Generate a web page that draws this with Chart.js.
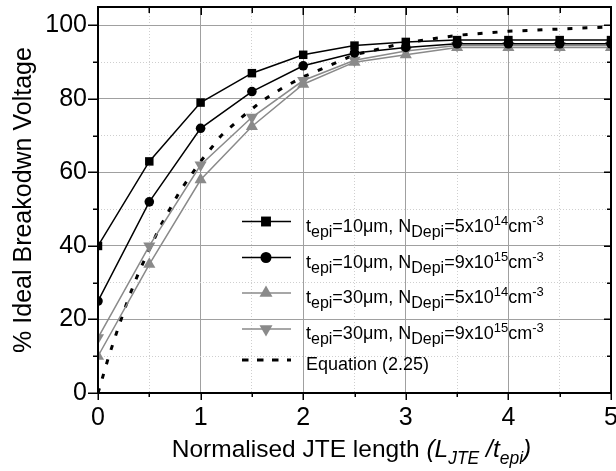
<!DOCTYPE html>
<html>
<head>
<meta charset="utf-8">
<script src="https://cdn.jsdelivr.net/npm/chart.js@4.4.0/dist/chart.umd.min.js"></script>
<style>
  html, body { margin: 0; padding: 0; background: #fff; }
  #wrap { width: 616px; height: 471px; }
</style>
</head>
<body>
<div id="wrap"><canvas id="chart"></canvas></div>
<script>
// simulated points (normalised JTE length L_JTE / t_epi)
const xValues = [0, 0.5, 1, 1.5, 2, 2.5, 3, 3.5, 4, 4.5, 5];
const tepi10N5e14 = [40, 63, 79, 87, 92, 94.5, 95.5, 96, 96, 96, 96];
const tepi10N9e15 = [25, 52, 72, 82, 89, 92.5, 94, 95, 95, 95, 95];
const tepi30N5e14 = [10, 35, 58, 72.5, 84, 90, 92, 94, 94, 94, 94];
const tepi30N9e15 = [15, 40, 62, 75, 85, 90.5, 93, 94.5, 94.5, 94.5, 94.5];

// Equation (2.25) curve
const eqX = [0, 0.1, 0.2, 0.3, 0.4, 0.5, 0.6, 0.8, 1, 1.2, 1.4, 1.6, 1.8, 2, 2.5, 3, 3.5, 4, 4.5, 5];
const eqY = [0, 9.5, 18, 26, 33, 39, 45, 55, 63, 70, 75, 79.5, 83, 86, 92, 95.3, 97.3, 98.4, 99, 99.6];

const xMajorTicks = [0, 1, 2, 3, 4, 5];
const xMinorTicks = [0.5, 1.5, 2.5, 3.5, 4.5];
const yMajorTicks = [0, 20, 40, 60, 80, 100];
const yMinorTicks = [10, 30, 50, 70, 90];

// legend labels: [text, style]
const legendLabels = [
    [['t'], ['epi', 'sub'], ['=10\u03bcm, N'], ['Depi', 'sub'], ['=5x10'], ['14', 'sup'], ['cm'], ['-3', 'sup']],
    [['t'], ['epi', 'sub'], ['=10\u03bcm, N'], ['Depi', 'sub'], ['=9x10'], ['15', 'sup'], ['cm'], ['-3', 'sup']],
    [['t'], ['epi', 'sub'], ['=30\u03bcm, N'], ['Depi', 'sub'], ['=5x10'], ['14', 'sup'], ['cm'], ['-3', 'sup']],
    [['t'], ['epi', 'sub'], ['=30\u03bcm, N'], ['Depi', 'sub'], ['=9x10'], ['15', 'sup'], ['cm'], ['-3', 'sup']],
    [['Equation (2.25)']]
];
const xTitle = [['Normalised JTE length '], ['(L', 'it'], ['JTE', 'itsub'], [' /t', 'it'], ['epi', 'itsub'], [')', 'it']];
const yTitle = '% Ideal Breakodwn Voltage';

const FONT = "'Liberation Sans', Arial, Helvetica, sans-serif";
const GREY = '#8a8a8a';

function toPoints(xs, ys) {
    return xs.map((x, i) => ({x: x, y: ys[i]}));
}

function partFont(style, size) {
    const it = style && style.indexOf('it') === 0 ? 'italic ' : '';
    return it + size + 'px ' + FONT;
}

// draws text with sub/superscripts, returns width
function drawRich(ctx, parts, x, y, sizes, draw) {
    let cx = x;
    parts.forEach(([text, style]) => {
        let size = sizes.main, dy = 0;
        if (style === 'sub' || style === 'itsub') { size = sizes.sub; dy = sizes.subDy; }
        if (style === 'sup') { size = sizes.sup; dy = sizes.supDy; }
        ctx.font = partFont(style, size);
        if (draw) ctx.fillText(text, cx, y + dy);
        cx += ctx.measureText(text).width;
    });
    return cx - x;
}

// no automatic padding around the plot, the frame sits where the reference has it
function noPad(s) {
    s.paddingTop = 0; s.paddingBottom = 0; s.paddingLeft = 0; s.paddingRight = 0;
}

const decorations = {
    id: 'decorations',
    afterDraw(chart) {
        const ctx = chart.ctx;
        const {left, right, top, bottom} = chart.chartArea;
        const xs = chart.scales.x, ys = chart.scales.y;
        ctx.save();

        // ticks
        ctx.strokeStyle = '#000';
        ctx.lineWidth = 1.5;
        ctx.beginPath();
        xMajorTicks.concat(xMinorTicks).forEach(v => {
            const px = Math.round(xs.getPixelForValue(v)) + 0.25;
            const major = xMajorTicks.includes(v);
            ctx.moveTo(px, bottom); ctx.lineTo(px, bottom + (major ? 7 : 4));
            ctx.moveTo(px, top); ctx.lineTo(px, top + (major ? 8 : 6));
        });
        yMajorTicks.concat(yMinorTicks).forEach(v => {
            const py = Math.round(ys.getPixelForValue(v)) + 0.25;
            const major = yMajorTicks.includes(v);
            ctx.moveTo(left, py); ctx.lineTo(left - (major ? 10 : 5), py);
            ctx.moveTo(right, py); ctx.lineTo(right - (major ? 7 : 4), py);
        });
        ctx.stroke();

        // frame
        ctx.lineWidth = 2;
        ctx.strokeRect(left, top, right - left, bottom - top);

        // legend
        const rowsY = [221.5, 257.5, 293, 329, 360];
        const styles = [
            {color: '#000', pointStyle: 'rect', radius: 7, rotation: 0},
            {color: '#000', pointStyle: 'circle', radius: 5.5, rotation: 0},
            {color: GREY, pointStyle: 'triangle', radius: 7.5, rotation: 0},
            {color: GREY, pointStyle: 'triangle', radius: 7.5, rotation: 180},
            {color: '#000', dash: true}
        ];
        const sizes = {main: 18, sub: 16, subDy: 5, sup: 13, supDy: -7};
        rowsY.forEach((ry, i) => {
            const st = styles[i];
            ctx.strokeStyle = st.color;
            ctx.fillStyle = st.color;
            if (st.dash) {
                ctx.lineWidth = 3;
                ctx.setLineDash([6.5, 8.5]);
            } else {
                ctx.lineWidth = 1.5;
                ctx.setLineDash([]);
            }
            ctx.beginPath();
            ctx.moveTo(242, ry); ctx.lineTo(291, ry);
            ctx.stroke();
            ctx.setLineDash([]);
            if (!st.dash) {
                Chart.helpers.drawPoint(ctx, {pointStyle: st.pointStyle, radius: st.radius,
                    rotation: st.rotation, borderWidth: 0}, 266, ry);
            }
            ctx.fillStyle = '#000';
            ctx.textBaseline = 'alphabetic';
            ctx.textAlign = 'left';
            drawRich(ctx, legendLabels[i], 306, ry + 10, sizes, true);
        });

        // x axis title
        const tsizes = {main: 24.5, sub: 17.5, subDy: 7, sup: 17, supDy: -8};
        const w = drawRich(ctx, xTitle, 0, 0, tsizes, false);
        ctx.fillStyle = '#000';
        drawRich(ctx, xTitle, (left + right) / 2 - 3 - w / 2, 457, tsizes, true);

        ctx.restore();
    }
};

const ctx = document.getElementById('chart').getContext('2d');

new Chart(ctx, {
    type: 'line',
    data: {
        datasets: [
            {
                label: 't_epi=10um, N_Depi=5x10^14cm^-3',
                data: toPoints(xValues, tepi10N5e14),
                borderColor: '#000', backgroundColor: '#000', clip: 0,
                borderWidth: 1.5, pointStyle: 'rect', pointRadius: 6, pointBorderWidth: 0
            },
            {
                label: 't_epi=10um, N_Depi=9x10^15cm^-3',
                data: toPoints(xValues, tepi10N9e15),
                borderColor: '#000', backgroundColor: '#000', clip: 0,
                borderWidth: 1.5, pointStyle: 'circle', pointRadius: 4.8, pointBorderWidth: 0
            },
            {
                label: 't_epi=30um, N_Depi=5x10^14cm^-3',
                data: toPoints(xValues, tepi30N5e14),
                borderColor: GREY, backgroundColor: GREY, clip: 0,
                borderWidth: 1.5, pointStyle: 'triangle', pointRadius: 7, pointBorderWidth: 0
            },
            {
                label: 't_epi=30um, N_Depi=9x10^15cm^-3',
                data: toPoints(xValues, tepi30N9e15),
                borderColor: GREY, backgroundColor: GREY, clip: 0,
                borderWidth: 1.5, pointStyle: 'triangle', pointRotation: 180, pointRadius: 7, pointBorderWidth: 0
            },
            {
                label: 'Equation (2.25)',
                data: toPoints(eqX, eqY),
                borderColor: '#000', borderWidth: 3, borderDash: [5, 10], clip: 0,
                pointRadius: 0, fill: false
            }
        ]
    },
    options: {
        responsive: true,
        maintainAspectRatio: false,
        animation: false,
        events: [],
        layout: {autoPadding: false, padding: {top: 7, right: 5, left: 0, bottom: 0}},
        plugins: {legend: {display: false}, tooltip: {enabled: false}},
        elements: {line: {tension: 0}},
        scales: {
            x: {
                type: 'linear', min: 0, max: 5,
                afterFit: s => { s.height = 78; noPad(s); },
                afterBuildTicks: s => {
                    s.ticks = xMajorTicks.concat(xMinorTicks).sort((a, b) => a - b).map(v => ({value: v}));
                },
                ticks: {
                    autoSkip: false, maxRotation: 0, padding: 10, color: '#000',
                    font: {family: FONT, size: 25},
                    callback: v => xMajorTicks.includes(v) ? String(v) : ''
                },
                grid: {
                    drawTicks: false, lineWidth: 1,
                    color: c => xMajorTicks.includes(c.tick.value) ? '#a0a0a0' : '#cfcfcf'
                },
                border: {display: false, dash: c => xMajorTicks.includes(c.tick.value) ? [] : [1, 2]}
            },
            y: {
                type: 'linear', min: 0, max: 105,
                afterFit: s => { s.width = 98; noPad(s); },
                afterBuildTicks: s => {
                    s.ticks = yMajorTicks.concat(yMinorTicks).sort((a, b) => a - b).map(v => ({value: v}));
                },
                ticks: {
                    autoSkip: false, padding: 11, color: '#000',
                    font: {family: FONT, size: 25},
                    callback: v => yMajorTicks.includes(v) ? String(v) : ''
                },
                grid: {
                    drawTicks: false, lineWidth: 1,
                    color: c => yMajorTicks.includes(c.tick.value) ? '#a0a0a0' : '#cfcfcf'
                },
                border: {display: false, dash: c => yMajorTicks.includes(c.tick.value) ? [] : [1, 2]},
                title: {
                    display: true, text: yTitle, color: '#000',
                    font: {family: FONT, size: 25}, padding: {top: 9, bottom: 0}
                }
            }
        }
    },
    plugins: [decorations]
});
</script>
</body>
</html>
